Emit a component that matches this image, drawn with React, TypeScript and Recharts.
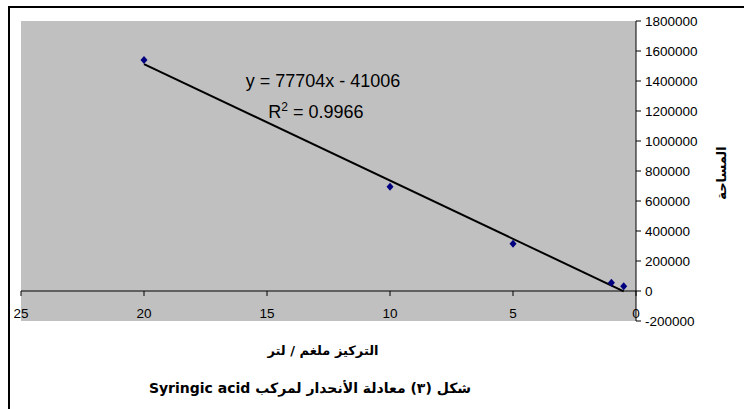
import { ScatterChart, Scatter, XAxis, YAxis, CartesianGrid, ReferenceLine } from 'recharts';

const concentrations = [20, 10, 5, 1, 0.5];
const areas = [1540000, 695000, 315000, 55000, 32000];

const xTicks = [0, 5, 10, 15, 20, 25];
const yTicks = [-200000, 0, 200000, 400000, 600000, 800000, 1000000, 1200000, 1400000, 1600000, 1800000];

// trendline as printed on the chart
const slope = 77704;
const intercept = -41006;
const trendX = [0.5, 20];

const points = concentrations.map((x, i) => ({ x, y: areas[i] }));
const trend = trendX.map((x) => ({ x, y: slope * x + intercept }));

const W = 744;
const H = 409;
const plotTop = 21;
const plotHeight = 300;
const yMin = -200000;
const yMax = 1800000;
const zeroY = plotTop + (plotHeight * yMax) / (yMax - yMin);

const font = 'Arial, "Liberation Sans", sans-serif';
const arabicFont = '"DejaVu Sans", Arial, sans-serif';

function Diamond(props: any) {
  const { cx, cy } = props;
  return (
    <polygon
      points={`${cx},${cy - 4} ${cx + 3.5},${cy} ${cx},${cy + 4} ${cx - 3.5},${cy}`}
      fill="#000080"
    />
  );
}

function XTick(props: any) {
  const { x, payload } = props;
  return (
    <g>
      <line x1={x} x2={x} y1={zeroY} y2={zeroY + 5} stroke="#000" strokeWidth={1} />
      <text x={x} y={zeroY + 27} textAnchor="middle" fontSize={13.5} fontFamily={font} fill="#000">
        {payload.value}
      </text>
    </g>
  );
}

export default function App() {
  return (
    <div style={{ position: 'absolute', left: 0, top: 0, width: W, height: H, background: '#fff', overflow: 'hidden' }}>
      <div
        style={{
          position: 'absolute',
          left: 8,
          top: 6,
          width: 760,
          height: 420,
          borderLeft: '2px solid #000',
          borderTop: '2px solid #000',
        }}
      />
      <ScatterChart
        width={W}
        height={H}
        margin={{ top: plotTop, right: 48, bottom: 58, left: 21 }}
        style={{ position: 'absolute', left: 0, top: 0 }}
      >
        <CartesianGrid fill="#C0C0C0" horizontal={false} vertical={false} />
        <XAxis
          type="number"
          dataKey="x"
          domain={[0, 25]}
          ticks={xTicks}
          reversed
          height={30}
          axisLine={false}
          tickLine={false}
          tick={<XTick />}
          interval={0}
        />
        <YAxis
          type="number"
          dataKey="y"
          orientation="right"
          domain={[yMin, yMax]}
          ticks={yTicks}
          width={60}
          interval={0}
          axisLine={{ stroke: '#000', strokeWidth: 1 }}
          tickLine={{ stroke: '#000' }}
          tickSize={5}
          tickMargin={4}
          tick={{ fontSize: 13.5, fontFamily: font, fill: '#000', textAnchor: 'start' }}
        />
        <ReferenceLine y={0} stroke="#000" strokeWidth={1} />
        <Scatter
          data={trend}
          line={{ stroke: '#000', strokeWidth: 2 }}
          shape={() => <g />}
          isAnimationActive={false}
        />
        <Scatter data={points} shape={<Diamond />} isAnimationActive={false} />
      </ScatterChart>
      <div
        style={{
          position: 'absolute',
          left: 223,
          width: 200,
          top: 70,
          textAlign: 'center',
          fontFamily: font,
          fontSize: 18,
          lineHeight: '22px',
        }}
      >
        y = 77704x - 41006
      </div>
      <div
        style={{
          position: 'absolute',
          left: 216,
          width: 200,
          top: 101,
          textAlign: 'center',
          fontFamily: font,
          fontSize: 18,
          lineHeight: '22px',
        }}
      >
        R<sup style={{ fontSize: 12, lineHeight: 0 }}>2</sup> = 0.9966
      </div>
      <div
        dir="rtl"
        style={{
          position: 'absolute',
          left: 223,
          width: 200,
          top: 341,
          textAlign: 'center',
          fontFamily: arabicFont,
          fontWeight: 'bold',
          fontSize: 13,
          lineHeight: '20px',
        }}
      >
        التركيز ملغم / لتر
      </div>
      <div
        dir="rtl"
        style={{
          position: 'absolute',
          left: 110,
          width: 400,
          top: 378,
          textAlign: 'center',
          fontFamily: arabicFont,
          fontWeight: 'bold',
          fontSize: 14,
          lineHeight: '20px',
        }}
      >
        شكل (٣) معادلة الأنحدار لمركب Syringic acid
      </div>
      <div
        dir="rtl"
        style={{
          position: 'absolute',
          left: 672,
          top: 163,
          width: 100,
          height: 20,
          transform: 'rotate(-90deg)',
          transformOrigin: '50px 10px',
          textAlign: 'center',
          fontFamily: arabicFont,
          fontWeight: 'bold',
          fontSize: 13,
          lineHeight: '20px',
        }}
      >
        المساحة
      </div>
    </div>
  );
}
